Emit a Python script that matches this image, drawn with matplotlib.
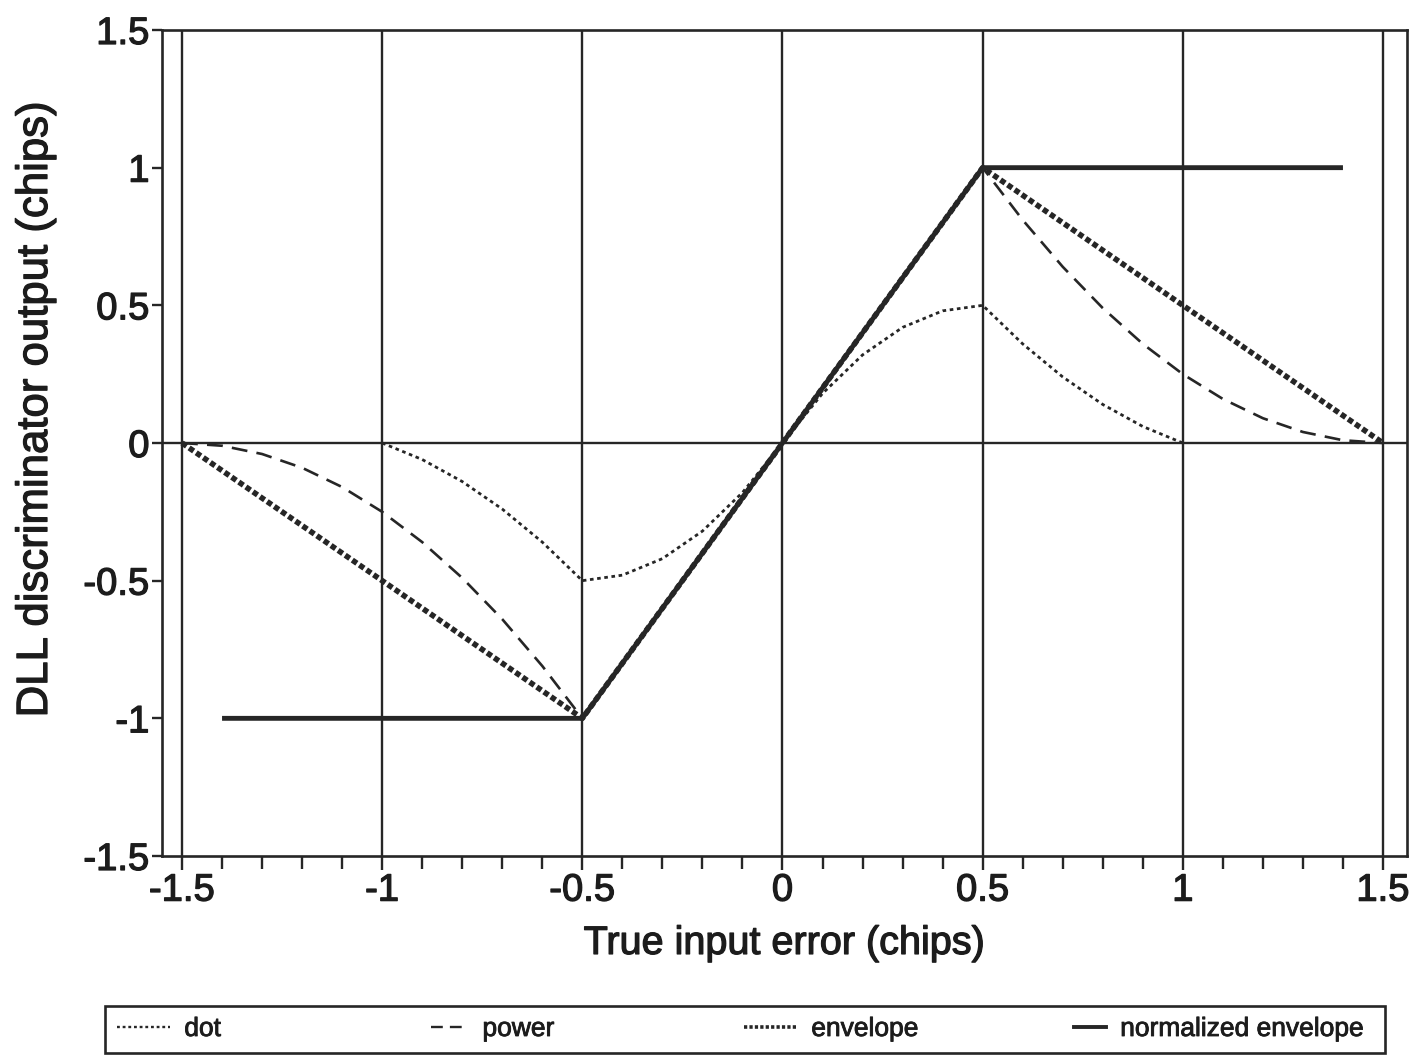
import matplotlib
matplotlib.use("Agg")
import matplotlib.pyplot as plt
import matplotlib.patheffects as pe
from matplotlib.ticker import MultipleLocator, FuncFormatter
from matplotlib.lines import Line2D
from matplotlib.patches import Rectangle

plt.rcParams['font.family'] = ['Liberation Sans', 'DejaVu Sans']
plt.rcParams['axes.unicode_minus'] = False

# ---- data ----
x_dot = [-1.0, -0.9, -0.8, -0.7, -0.6, -0.5, -0.4, -0.3, -0.2, -0.1, 0.0,
         0.1, 0.2, 0.3, 0.4, 0.5, 0.6, 0.7, 0.8, 0.9, 1.0]
y_dot = [0.0, -0.06, -0.14, -0.24, -0.36, -0.50, -0.48, -0.42, -0.32, -0.18, 0.0,
         0.18, 0.32, 0.42, 0.48, 0.50, 0.36, 0.24, 0.14, 0.06, 0.0]

x_power = [-1.5, -1.4, -1.3, -1.2, -1.1, -1.0, -0.9, -0.8, -0.7, -0.6, -0.5,
           -0.4, -0.3, -0.2, -0.1, 0.0, 0.1, 0.2, 0.3, 0.4, 0.5,
           0.6, 0.7, 0.8, 0.9, 1.0, 1.1, 1.2, 1.3, 1.4, 1.5]
y_power = [0.0, -0.01, -0.04, -0.09, -0.16, -0.25, -0.36, -0.49, -0.64, -0.81, -1.0,
           -0.8, -0.6, -0.4, -0.2, 0.0, 0.2, 0.4, 0.6, 0.8, 1.0,
           0.81, 0.64, 0.49, 0.36, 0.25, 0.16, 0.09, 0.04, 0.01, 0.0]

x_env = [-1.5, -0.5, 0.5, 1.5]
y_env = [0.0, -1.0, 1.0, 0.0]

x_norm = [-1.4, -0.5, 0.5, 1.4]
y_norm = [-1.0, -1.0, 1.0, 1.0]

series_labels = ["dot", "power", "envelope", "normalized envelope"]
x_major_ticks = [-1.5, -1.0, -0.5, 0.0, 0.5, 1.0, 1.5]
y_major_ticks = [-1.5, -1.0, -0.5, 0.0, 0.5, 1.0, 1.5]

# ---- figure ----
W, H = 1417, 1059
fig = plt.figure(figsize=(W / 100, H / 100), dpi=100)
fig.patch.set_facecolor('white')
ax = fig.add_axes([162 / W, 1 - 856 / H, (1407 - 162) / W, (856 - 30) / H])

ink = '#262626'
txt = '#1c1c1c'
bold = [pe.withStroke(linewidth=0.9, foreground=txt)]
ax.set_xlim(-1.55, 1.56)
ax.set_ylim(-1.5, 1.5)

# grid: vertical at 0.5 steps, horizontal only at zero
for xv in x_major_ticks:
    ax.axvline(xv, color=ink, lw=1.7, zorder=1)
ax.axhline(0.0, color=ink, lw=1.7, zorder=1)

ax.plot(x_dot, y_dot, color=ink, lw=2.0, dashes=(1.3, 1.3), zorder=3)
ax.plot(x_power, y_power, color=ink, lw=1.9, dashes=(6, 3.5), zorder=3)
ax.plot(x_norm, y_norm, color=ink, lw=3.5, solid_capstyle='butt', zorder=3)
ax.plot(x_env, y_env, color=ink, lw=4.0, dashes=(1.0, 0.55), zorder=4)


def tick_fmt(v, pos):
    if abs(v) < 1e-9:
        return "0"
    return "%g" % v


fmt = FuncFormatter(tick_fmt)
ax.set_xticks(x_major_ticks)
ax.set_yticks(y_major_ticks)
ax.xaxis.set_major_formatter(fmt)
ax.yaxis.set_major_formatter(fmt)
ax.xaxis.set_minor_locator(MultipleLocator(0.1))
ax.tick_params(axis='x', which='major', direction='out', length=10, width=1.7,
               color=ink, labelsize=27.5, labelcolor=txt, pad=2)
ax.tick_params(axis='x', which='minor', direction='out', length=9, width=1.7, color=ink)
ax.tick_params(axis='y', which='major', direction='out', length=7, width=1.7,
               color=ink, labelsize=27.5, labelcolor=txt, pad=2)
for s in ax.spines.values():
    s.set_color(ink)
    s.set_linewidth(1.9)
for lbl in ax.get_xticklabels() + ax.get_yticklabels():
    lbl.set_path_effects(bold)

ax.set_xlabel("True input error (chips)", fontsize=28.5, color=txt, labelpad=11,
              path_effects=bold)
ax.set_ylabel("DLL discriminator output (chips)", fontsize=31.5, color=txt,
              path_effects=bold)
ax.yaxis.set_label_coords((56 - 162) / 1245, (856 - 409) / 826)

# ---- legend: one framed row of four equal cells ----
box = Rectangle((105 / W, 1 - 1053 / H), (1385 - 105) / W, (1053 - 1006) / H,
                transform=fig.transFigure, fill=False, edgecolor=ink, lw=1.9)
fig.add_artist(box)
proxies = [
    Line2D([], [], color=ink, lw=1.7, dashes=(1.2, 1.2)),
    Line2D([], [], color=ink, lw=1.7, dashes=(5, 3)),
    Line2D([], [], color=ink, lw=2.6, dashes=(0.9, 0.6)),
    Line2D([], [], color=ink, lw=2.8),
]
cell_x = [117, 431, 744, 1074]
hlen = [2.0, 1.4, 2.0, 1.2]
for proxy, lab, cx, hl in zip(proxies, series_labels, cell_x, hlen):
    leg = fig.legend(handles=[proxy], labels=[lab], loc='center left',
                     bbox_to_anchor=(cx / W, 1 - 1029 / H), frameon=False,
                     fontsize=19, handlelength=hl, handletextpad=0.55,
                     borderpad=0, borderaxespad=0, labelcolor=txt)
    for t in leg.get_texts():
        t.set_path_effects([pe.withStroke(linewidth=0.6, foreground=txt)])

fig.savefig("out.png", dpi=100, facecolor='white')
